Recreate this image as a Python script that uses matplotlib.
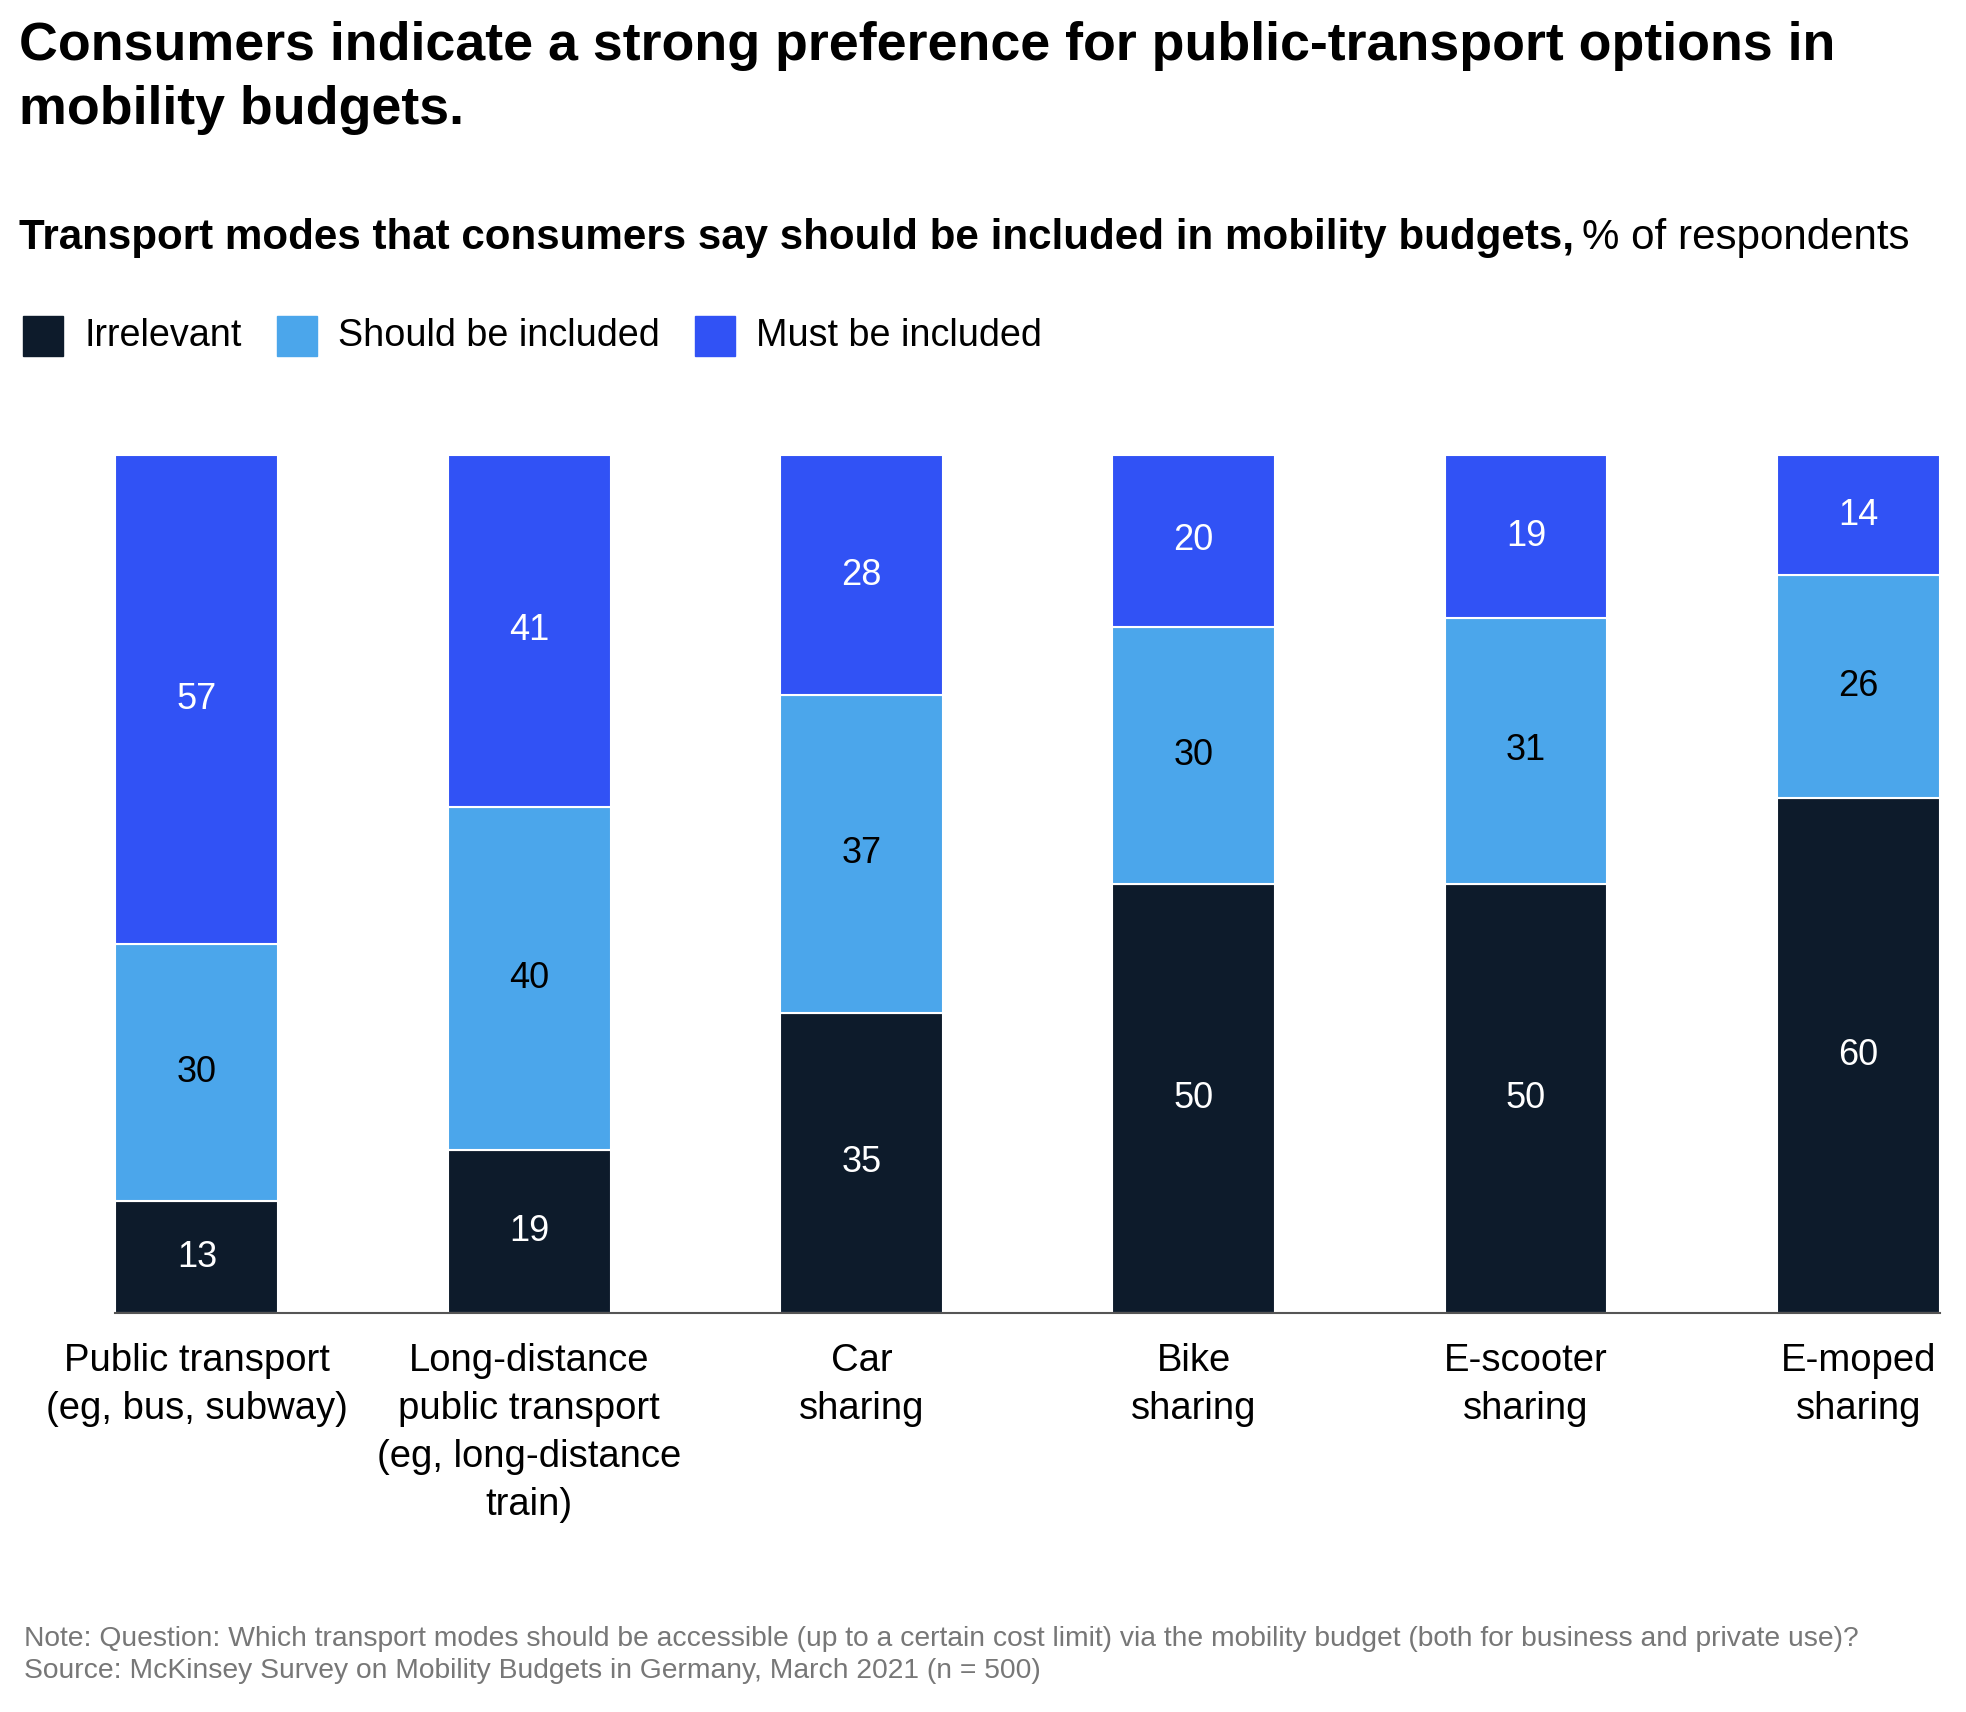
import numpy as np
import matplotlib.pyplot as plt

plt.rcParams['font.family'] = ['Liberation Sans', 'DejaVu Sans']

categories = ['Public transport\n(eg, bus, subway)',
              'Long-distance\npublic transport\n(eg, long-distance\ntrain)',
              'Car\nsharing', 'Bike\nsharing', 'E-scooter\nsharing', 'E-moped\nsharing']
series_names = ['Irrelevant', 'Should be included', 'Must be included']
irrelevant = [13, 19, 35, 50, 50, 60]
should = [30, 40, 37, 30, 31, 26]
must = [57, 41, 28, 20, 19, 14]

colors = ['#0D1B2B', '#4BA6EB', '#3152F5']
text_colors = ['white', 'black', 'white']

fig = plt.figure(figsize=(19.66, 17.12), dpi=100)
ax = fig.add_axes([0.0587, 0.2332, 0.9279, 0.5010])

x = np.arange(len(categories))
width = 0.49
bottom = np.zeros(len(categories))
for vals, col, tcol, name in zip([irrelevant, should, must], colors, text_colors, series_names):
    ax.bar(x, vals, width=width, bottom=bottom, color=col,
           edgecolor='white', linewidth=1.5, label=name)
    for xi, b, v in zip(x, bottom, vals):
        ax.text(xi, b + v / 2, str(v), ha='center', va='center',
                color=tcol, fontsize=26)
    bottom += np.array(vals)

ax.set_xlim(-width / 2, len(categories) - 1 + width / 2)
ax.set_ylim(0, 100)
ax.set_yticks([])
ax.set_xticks(x)
ax.set_xticklabels(categories, fontsize=27.5, linespacing=1.42, va='top')
ax.tick_params(axis='x', length=0, pad=22)
for s in ['top', 'right', 'left']:
    ax.spines[s].set_visible(False)
ax.spines['bottom'].set_color('#555555')
ax.spines['bottom'].set_linewidth(1.5)

fig.text(19 / 1966, 1 - 21 / 1712,
         'Consumers indicate a strong preference for public-transport options in\nmobility budgets.',
         fontsize=38.7, fontweight='bold', ha='left', va='top', linespacing=1.36)

t1 = fig.text(19 / 1966, 1 - 238 / 1712,
              'Transport modes that consumers say should be included in mobility budgets,',
              fontsize=30.3, fontweight='bold', ha='left', va='center')
fig.canvas.draw()
bb = t1.get_window_extent()
fig.text(bb.x1 / 1966 + 0.004, 1 - 238 / 1712, '% of respondents',
         fontsize=30.3, ha='left', va='center')

# legend drawn manually as squares and labels
leg_y = 1 - 336 / 1712
sq_x = [23, 277, 695]
for sx, col, name in zip(sq_x, colors, series_names):
    fig.patches.append(plt.Rectangle((sx / 1966, leg_y - 20 / 1712), 40 / 1966, 40 / 1712,
                                     transform=fig.transFigure, color=col))
    fig.text((sx + 61) / 1966, leg_y, name, fontsize=27.2, ha='left', va='center')

fig.text(24 / 1966, 1 - 1639 / 1712,
         'Note: Question: Which transport modes should be accessible (up to a certain cost limit) via the mobility budget (both for business and private use)?',
         fontsize=20.3, color='#777777', ha='left', va='center')
fig.text(24 / 1966, 1 - 1671 / 1712,
         'Source: McKinsey Survey on Mobility Budgets in Germany, March 2021 (n = 500)',
         fontsize=20.3, color='#777777', ha='left', va='center')

fig.savefig('out.png', dpi=100)
